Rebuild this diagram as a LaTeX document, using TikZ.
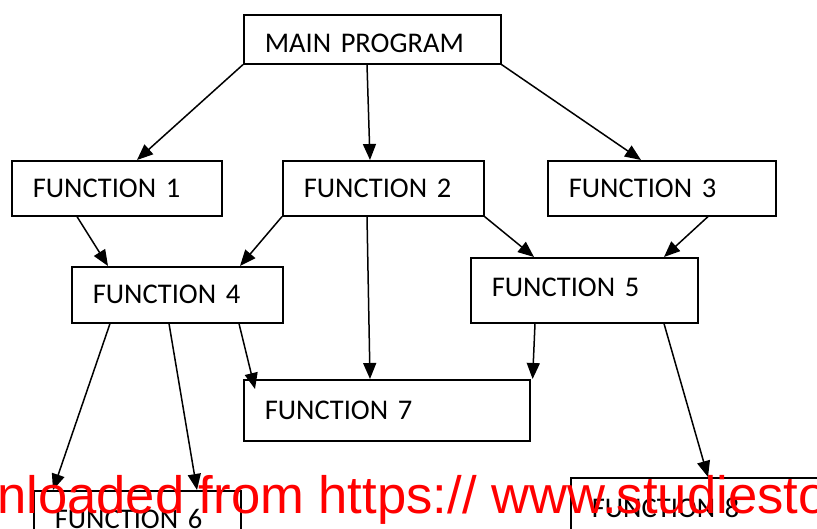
\documentclass[tikz,border=0pt]{standalone}
\usepackage{fontspec}
\setmainfont{Carlito}
\newfontfamily\wmfont{Liberation Sans}
\usetikzlibrary{arrows.meta,calc}

\begin{document}
\begin{tikzpicture}[x=1pt,y=-1pt,
  box/.style={draw=black, line width=1.6pt, anchor=north west, inner xsep=21pt, inner ysep=0pt,
    align=left, text height=18.4pt, text depth=0pt,
    font=\fontsize{28.5}{30}\selectfont},
  link/.style={line width=1.5pt, -{Triangle[length=16pt,width=13pt]}}]
  \useasboundingbox (0,0) rectangle (817,529);
  \fill[white] (0,0) rectangle (817,529);
  \clip (0,0) rectangle (817,529);

  % boxes
  \node[box, minimum width=257pt, minimum height=49pt, text width=215pt, text height=26.4pt] (main) at (243,14) {MAIN PROGRAM};
  \node[box, minimum width=210pt, minimum height=55pt, text width=168pt] (f1) at (11,160) {FUNCTION 1};
  \node[box, minimum width=201pt, minimum height=55pt, text width=159pt] (f2) at (282,160) {FUNCTION 2};
  \node[box, minimum width=228pt, minimum height=55pt, text width=186pt] (f3) at (547,160) {FUNCTION 3};
  \node[box, minimum width=211pt, minimum height=56pt, text width=169pt] (f4) at (71,266) {FUNCTION 4};
  \node[box, minimum width=227pt, minimum height=65pt, text width=185pt, text depth=6pt] (f5) at (470,257) {FUNCTION 5};
  \node[box, minimum width=286pt, minimum height=61pt, text width=244pt] (f7) at (243,379) {FUNCTION 7};
  \node[box, minimum width=207pt, minimum height=57pt, text width=165pt] (f6) at (33,490) {FUNCTION 6};
  \node[box, minimum width=280pt, minimum height=61pt, text width=238pt] (f8) at (570,477) {FUNCTION 8};

  % calls
  \draw[link] (main.south west) -- ($(f1.north west)+(126,0)$);
  \draw[link] ($(main.south west)+(124,0)$) -- ($(f2.north west)+(88,0)$);
  \draw[link] (main.south east) -- ($(f3.north west)+(94,0)$);
  \draw[link] ($(f1.south west)+(66,0)$) -- ($(f4.north west)+(37,0)$);
  \draw[link] (f2.south west) -- ($(f4.north west)+(169,0)$);
  \draw[link] (f2.south east) -- ($(f5.north west)+(64,0)$);
  \draw[link] ($(f3.south west)+(161,0)$) -- ($(f5.north west)+(194,0)$);
  \draw[link] ($(f2.south west)+(85,0)$) -- ($(f7.north west)+(127,0)$);
  \draw[link] ($(f4.south west)+(39,0)$) -- ($(f6.north west)+(20,0)$);
  \draw[link] ($(f4.south west)+(98,0)$) -- ($(f6.north west)+(164,0)$);
  \draw[link] ($(f4.south west)+(168,0)$) -- ($(f7.north west)+(12,10)$);
  \draw[link] ($(f5.south west)+(65,0)$) -- ($(f7.north east)+(2,0)$);
  \draw[link] ($(f5.south west)+(194,0)$) -- ($(f8.north west)+(138,0)$);

  % overprinted line of red text
  \node[anchor=base west, inner sep=0pt, text={rgb,255:red,255;green,0;blue,0}] (wm) at (-3,513)
    {\wmfont\fontsize{52.6}{56}\selectfont nloaded from https:// www.studiesto};
\end{tikzpicture}
\end{document}
